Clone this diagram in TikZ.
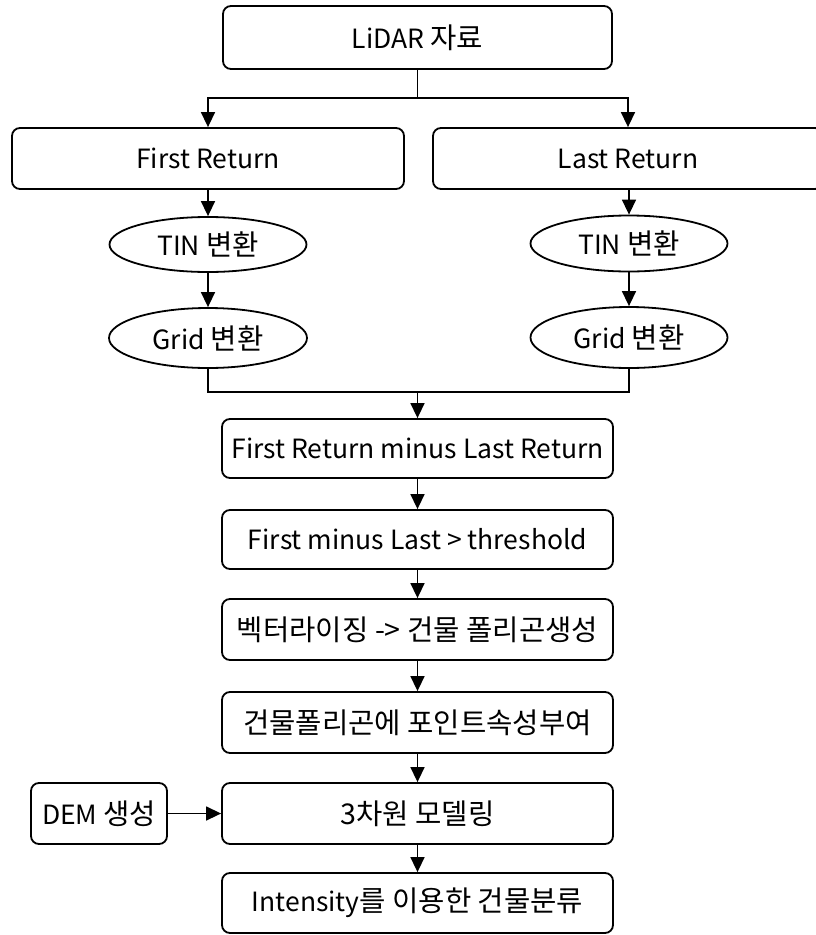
\documentclass[tikz,border=0pt]{standalone}
\usepackage{fontspec}
\setmainfont{Noto Sans CJK KR}
\newfontfamily\kr[Scale=1.08]{Noto Sans CJK KR}
\usetikzlibrary{arrows.meta,shapes.geometric}
\tikzset{
  box/.style={draw, line width=1.8pt, rounded corners=8pt, minimum width=391pt, minimum height=60pt, inner sep=0pt, font=\fontsize{26.5}{30}\selectfont},
  ell/.style={draw, line width=1.8pt, ellipse, inner sep=0pt, font=\fontsize{26.5}{30}\selectfont},
  arr/.style={line width=1.5pt, -{Triangle[width=14pt,length=15pt]}},
  ln/.style={line width=1.5pt}
}
\begin{document}
\begin{tikzpicture}[x=1pt,y=-1pt]
\fill[white] (0,0) rectangle (816,935);
\clip (0,0) rectangle (816,935);
\node[box, minimum width=389pt, minimum height=63pt] (lidar) at (417.5,37.5) {LiDAR {\kr 자료}};
\node[box, minimum width=392pt, minimum height=61pt] (fr) at (208,158.5) {First Return};
\node[box, minimum width=390pt, minimum height=61pt] (lr) at (628,158.5) {Last Return};
\node[ell, minimum width=197pt, minimum height=55pt] (tinl) at (208,244.5) {TIN {\kr 변환}};
\node[ell, minimum width=198pt, minimum height=60pt] (gridl) at (208,338) {Grid {\kr 변환}};
\node[ell, minimum width=197pt, minimum height=56pt] (tinr) at (629,243.5) {TIN {\kr 변환}};
\node[ell, minimum width=197pt, minimum height=61pt] (gridr) at (629,337.5) {Grid {\kr 변환}};
\node[box, minimum height=59pt] (b1) at (417.5,448.5) {First Return minus Last Return};
\node[box, minimum height=59pt] (b2) at (417.5,539.5) {First minus Last > threshold};
\node[box, minimum height=61pt] (b3) at (417.5,629.5) {\kr 벡터라이징 -> 건물 폴리곤생성};
\node[box, minimum height=61pt] (b4) at (417.5,722.5) {\kr 건물폴리곤에 포인트속성부여};
\node[box, minimum height=61pt] (b5) at (417.5,813.5) {\kr 3차원 모델링};
\node[box, minimum height=60pt] (b6) at (417.5,903) {Intensity{\kr 를 이용한 건물분류}};
\node[box, minimum width=136pt, minimum height=61pt] (dem) at (99,813.5) {DEM {\kr 생성}};
\coordinate (br) at (417.5,98);
\coordinate (jn) at (417.5,392);
\draw[ln] (lidar.south) -- (br);
\draw[arr] (br) -| (fr.north);
\draw[arr] (br) -| (lr.north);
\draw[arr] (fr) -- (tinl);
\draw[arr] (tinl) -- (gridl);
\draw[arr] (lr.south -| tinr.north) -- (tinr);
\draw[arr] (tinr) -- (gridr);
\draw[ln] (gridl.south) |- (jn) -| (gridr.south);
\draw[arr] (jn) -- (b1.north);
\draw[arr] (b1) -- (b2);
\draw[arr] (b2) -- (b3);
\draw[arr] (b3) -- (b4);
\draw[arr] (b4) -- (b5);
\draw[arr] (b5) -- (b6);
\draw[arr] (dem) -- (b5);
\end{tikzpicture}
\end{document}
